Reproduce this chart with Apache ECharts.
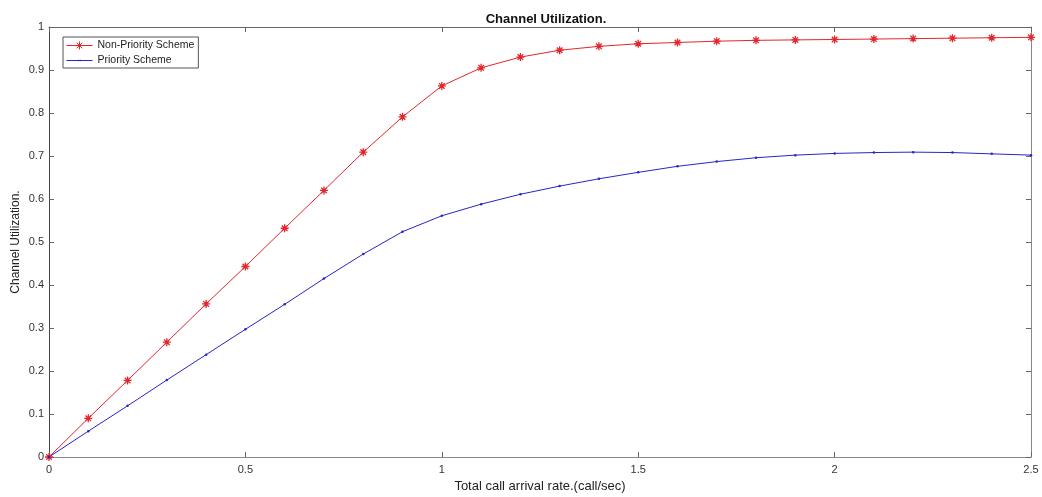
<!DOCTYPE html>
<html>
<head>
<meta charset="utf-8">
<script src="https://cdn.jsdelivr.net/npm/echarts@6/dist/echarts.min.js"></script>
<style>html,body{margin:0;padding:0;background:#fff;}#c{width:1042px;height:497px;}</style>
</head>
<body>
<div id="c"></div>
<script>
const xValues = [0,0.1,0.2,0.3,0.4,0.5,0.6,0.7,0.8,0.9,1.0,1.1,1.2,1.3,1.4,1.5,1.6,1.7,1.8,1.9,2.0,2.1,2.2,2.3,2.4,2.5];
const nonPriority = [0,0.090,0.178,0.267,0.356,0.443,0.532,0.620,0.709,0.791,0.863,0.905,0.930,0.946,0.955,0.961,0.964,0.967,0.969,0.970,0.971,0.972,0.973,0.974,0.975,0.976];
const priority = [0,0.060,0.119,0.179,0.238,0.297,0.355,0.415,0.472,0.524,0.561,0.588,0.611,0.630,0.647,0.662,0.676,0.687,0.696,0.702,0.706,0.708,0.709,0.708,0.705,0.702];
const seriesNames = ['Non-Priority Scheme','Priority Scheme'];
const titleText = 'Channel Utilization.';
const xName = 'Total call arrival rate.(call/sec)';
const yName = 'Channel Utilization.';

const FONT = 'Liberation Sans, Arial, sans-serif';
const AX = '#666';
const LBL = '#333';
const RED = '#e3262c';
const BLUE = '#2626c8';
const fmt = v => String(+(+v).toFixed(2));
const zip = (xs, ys) => xs.map((x, i) => [x, ys[i]]);
const asterisk = 'path://M5,0 L5,10 M0,5 L10,5 M1.5,1.5 L8.5,8.5 M8.5,1.5 L1.5,8.5';
const legendRed = 'path://M0,5 L26,5 M13,1 L13,9 M9,5 L17,5 M10.2,2.2 L15.8,7.8 M15.8,2.2 L10.2,7.8';
const legendBlue = 'path://M0,5 L26,5 M12.3,4.3 L13.7,5.7 M13.7,4.3 L12.3,5.7';

const chart = echarts.init(document.getElementById('c'), null, {renderer: 'canvas'});
chart.setOption({
  animation: false,
  backgroundColor: '#fff',
  title: {
    text: titleText, left: 541, top: 8, textAlign: 'center',
    textStyle: {fontFamily: FONT, fontSize: 13, fontWeight: 'bold', color: '#111'}
  },
  grid: {left: 49, right: 11, top: 27, bottom: 40, containLabel: false, outerBoundsMode: 'none'},
  legend: {
    orient: 'vertical', left: 63, top: 37,
    data: [
      {name: seriesNames[0], icon: legendRed, itemStyle: {color: 'rgba(0,0,0,0)', borderColor: RED, borderWidth: 1}},
      {name: seriesNames[1], icon: legendBlue, itemStyle: {color: 'rgba(0,0,0,0)', borderColor: BLUE, borderWidth: 1}}
    ],
    itemWidth: 26, itemHeight: 10, itemGap: 4,
    padding: [3, 4, 2, 3],
    borderColor: '#555', borderWidth: 1, backgroundColor: '#fff',
    textStyle: {fontFamily: FONT, fontSize: 10.5, color: '#222'}
  },
  xAxis: [{
    type: 'value', min: 0, max: 2.5, interval: 0.5, position: 'bottom',
    name: xName, nameLocation: 'middle', nameGap: 23, nameMoveOverlap: false,
    nameTextStyle: {fontFamily: FONT, fontSize: 13, color: '#222'},
    axisLine: {show: true, onZero: false, lineStyle: {color: '#888', width: 1}},
    axisTick: {show: true, inside: true, length: 5, lineStyle: {color: AX}},
    axisLabel: {fontFamily: FONT, fontSize: 11, color: LBL, margin: 7, formatter: fmt},
    splitLine: {show: false}
  }, {
    type: 'value', min: 0, max: 2.5, interval: 0.5, position: 'top',
    axisLine: {show: true, onZero: false, lineStyle: {color: AX, width: 1}},
    axisTick: {show: true, inside: true, length: 5, lineStyle: {color: AX}},
    axisLabel: {show: false}, splitLine: {show: false}
  }],
  yAxis: [{
    type: 'value', min: 0, max: 1, interval: 0.1, position: 'left',
    name: yName, nameLocation: 'middle', nameGap: 27, nameRotate: 90, nameMoveOverlap: false,
    nameTextStyle: {fontFamily: FONT, fontSize: 12, color: '#222'},
    axisLine: {show: true, onZero: false, lineStyle: {color: '#444', width: 1}},
    axisTick: {show: true, inside: true, length: 5, lineStyle: {color: AX}},
    axisLabel: {fontFamily: FONT, fontSize: 11, color: LBL, margin: 5, formatter: fmt},
    splitLine: {show: false}
  }, {
    type: 'value', min: 0, max: 1, interval: 0.1, position: 'right',
    axisLine: {show: true, onZero: false, lineStyle: {color: '#888', width: 1}},
    axisTick: {show: true, inside: true, length: 5, lineStyle: {color: AX}},
    axisLabel: {show: false}, splitLine: {show: false}
  }],
  series: [{
    name: seriesNames[0], type: 'line', xAxisIndex: 0, yAxisIndex: 0,
    data: zip(xValues, nonPriority),
    symbol: asterisk, symbolSize: 8, showAllSymbol: true,
    lineStyle: {color: RED, width: 1},
    itemStyle: {color: 'rgba(0,0,0,0)', borderColor: RED, borderWidth: 1.3},
    emphasis: {disabled: true}
  }, {
    name: seriesNames[1], type: 'line', xAxisIndex: 0, yAxisIndex: 0,
    data: zip(xValues, priority),
    symbol: 'circle', symbolSize: 2.5, showAllSymbol: true,
    lineStyle: {color: BLUE, width: 1},
    itemStyle: {color: BLUE, borderWidth: 0},
    emphasis: {disabled: true}
  }]
});
</script>
</body>
</html>
